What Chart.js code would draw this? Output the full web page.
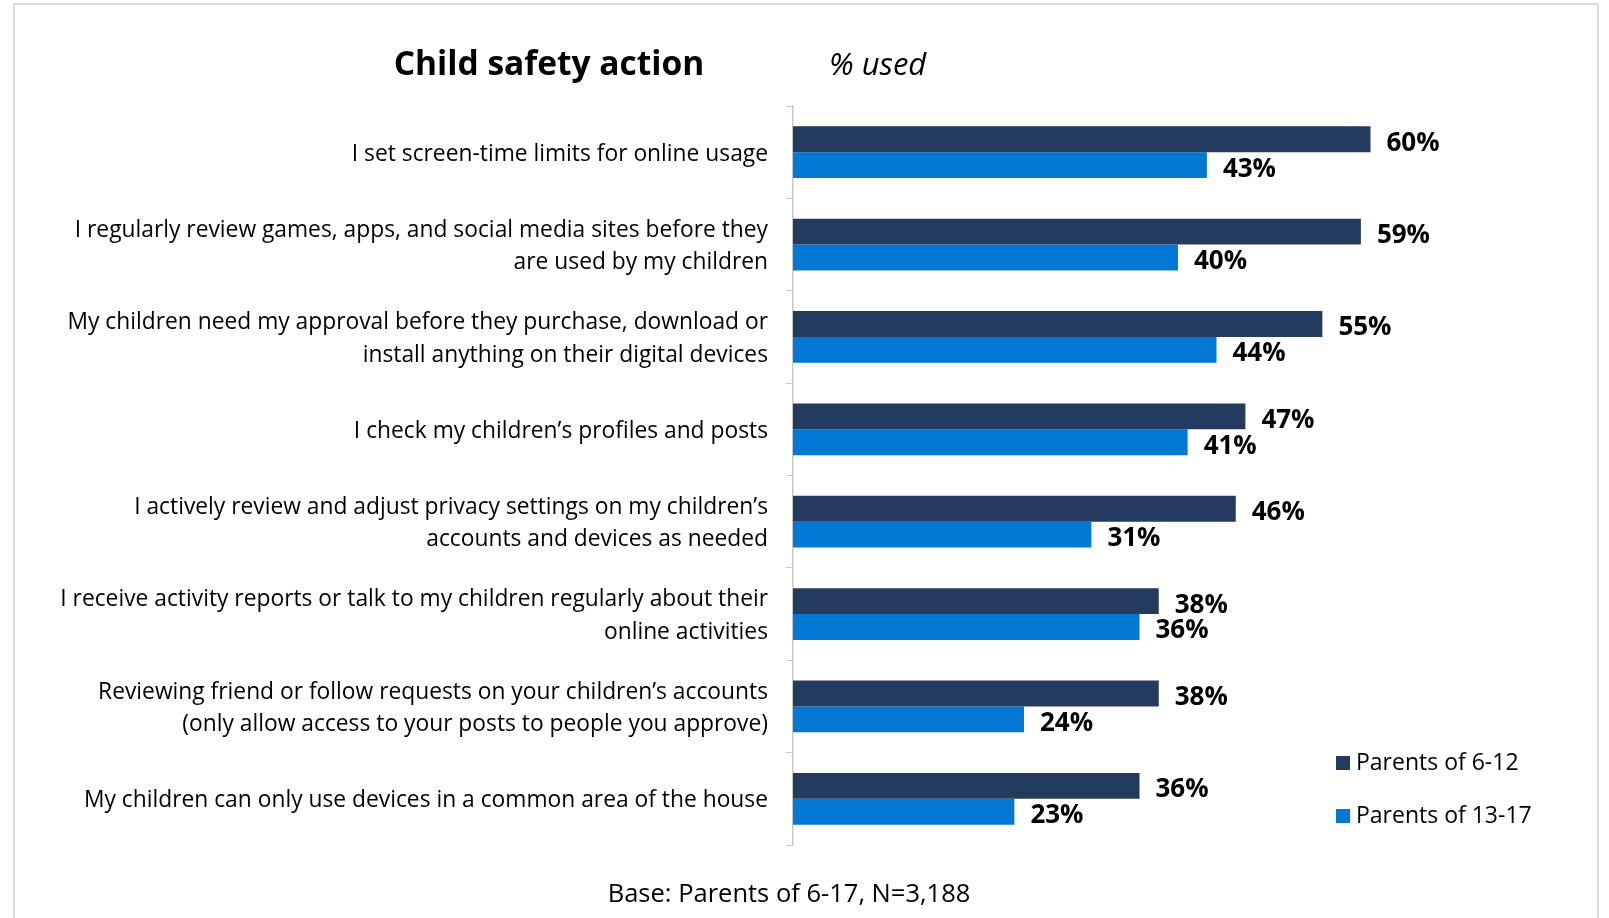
<!DOCTYPE html>
<html>
<head>
<meta charset="utf-8">
<title>Child safety action</title>
<script src="https://cdn.jsdelivr.net/npm/chart.js@4.4.1/dist/chart.umd.min.js"></script>
<style>
  html, body { margin: 0; padding: 0; background: #fff; }
  #wrap { position: relative; width: 1609px; height: 918px; }
  #frame {
    position: absolute; left: 13px; top: 3px; width: 1586px; height: 930px;
    border: 2px solid #dcdcdc; box-sizing: border-box;
  }
  canvas { position: absolute; left: 0; top: 0; }
</style>
</head>
<body>
<div id="wrap">
  <div id="frame"></div>
  <canvas id="chart" width="1609" height="918"></canvas>
</div>
<script>
// Survey answers, one entry per action (multi-line where the text wraps)
const actions = [
  'I set screen-time limits for online usage',
  ['I regularly review games, apps, and social media sites before they', 'are used by my children'],
  ['My children need my approval before they purchase, download or', 'install anything on their digital devices'],
  'I check my children\u2019s profiles and posts',
  ['I actively review and adjust privacy settings on my children\u2019s', 'accounts and devices as needed'],
  ['I receive activity reports or talk to my children regularly about their', 'online activities'],
  ['Reviewing friend or follow requests on your children\u2019s accounts', '(only allow access to your posts to people you approve)'],
  'My children can only use devices in a common area of the house'
];

const seriesNames = ['Parents of 6-12', 'Parents of 13-17'];
const parents6to12 = [60, 59, 55, 47, 46, 38, 38, 36];
const parents13to17 = [43, 40, 44, 41, 31, 36, 24, 23];

const titleText = 'Child safety action';
const unitText = '% used';
const baseText = 'Base: Parents of 6-17, N=3,188';

const NAVY = '#243a5e';
const BLUE = '#0078d4';
const FONT = '"Open Sans", "Noto Sans", sans-serif';

// Percent labels at the end of each bar
const valueLabels = {
  id: 'valueLabels',
  afterDatasetsDraw(chart) {
    const ctx = chart.ctx;
    ctx.save();
    ctx.font = 'bold 26px ' + FONT;
    ctx.fillStyle = '#000';
    ctx.textAlign = 'left';
    ctx.textBaseline = 'middle';
    chart.data.datasets.forEach((ds, i) => {
      chart.getDatasetMeta(i).data.forEach((bar, j) => {
        ctx.fillText(ds.data[j] + '%', bar.x + 16, bar.y + 4);
      });
    });
    ctx.restore();
  }
};

// Heading, unit note, base note and the legend in the lower right
const decorations = {
  id: 'decorations',
  afterDraw(chart) {
    const ctx = chart.ctx;
    ctx.save();
    ctx.fillStyle = '#000';
    ctx.textBaseline = 'middle';

    ctx.font = 'bold 33.5px ' + FONT;
    ctx.textAlign = 'center';
    ctx.fillText(titleText, 549, 65);

    ctx.font = 'italic 31px ' + FONT;
    ctx.textAlign = 'left';
    ctx.fillText(unitText, 829, 66);

    ctx.font = '25.5px ' + FONT;
    ctx.textAlign = 'center';
    ctx.fillText(baseText, 789, 895);

    ctx.font = '23px ' + FONT;
    ctx.textAlign = 'left';
    chart.data.datasets.forEach((ds, i) => {
      const y = 763 + i * 53;
      ctx.fillStyle = ds.backgroundColor;
      ctx.fillRect(1336, y - 7, 14, 14);
      ctx.fillStyle = '#000';
      ctx.fillText(ds.label, 1356, y);
    });
    ctx.restore();
  }
};

new Chart(document.getElementById('chart'), {
  type: 'bar',
  data: {
    labels: actions,
    datasets: [
      { label: seriesNames[0], data: parents6to12, backgroundColor: NAVY },
      { label: seriesNames[1], data: parents13to17, backgroundColor: BLUE }
    ]
  },
  options: {
    indexAxis: 'y',
    responsive: false,
    animation: false,
    layout: { padding: { top: 106, bottom: 73, left: 0, right: 46 } },
    datasets: {
      bar: { categoryPercentage: 0.56, barPercentage: 1.0 }
    },
    scales: {
      x: { display: false, min: 0, max: 80 },
      y: {
        afterFit(scale) { scale.width = 793; },
        border: { display: true, color: '#c8c8c8', width: 1.5 },
        grid: { drawOnChartArea: false, drawTicks: true, tickLength: 7, color: '#c8c8c8' },
        ticks: {
          padding: 18,
          labelOffset: 2,
          color: '#000',
          font: { family: FONT, size: 22.8, lineHeight: 1.42 }
        }
      }
    },
    plugins: {
      legend: { display: false },
      tooltip: { enabled: false }
    }
  },
  plugins: [valueLabels, decorations]
});
</script>
</body>
</html>
